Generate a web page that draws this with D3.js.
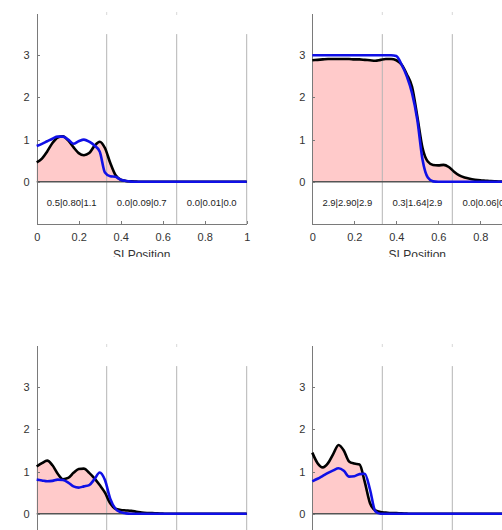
<!DOCTYPE html>
<html lang="en">
<head>
<meta charset="utf-8">
<title>SI Position profiles</title>
<style>
  body {
    margin: 0;
    padding: 0;
    background: #fff;
    overflow: hidden;
  }
  svg {
    display: block;
    font-family: 'Liberation Sans', Arial, sans-serif;
  }
  .axis path, .axis line {
    stroke: #7a7a7a;
    shape-rendering: crispEdges;
  }
  .axis text {
    fill: #333;
    font-size: 11px;
  }
  .sep {
    stroke: #b4b4b4;
    stroke-width: 1;
  }
  .zero {
    stroke: #555;
    stroke-width: 1.6;
  }
  .area {
    fill: #ffcaca;
  }
  .black-line, .blue-line {
    fill: none;
    stroke-width: 2.6;
    stroke-linejoin: round;
  }
  .black-line { stroke: #000; }
  .blue-line { stroke: #1010e6; }
  .note {
    font-size: 9.5px;
    fill: #222;
    text-anchor: middle;
  }
</style>
</head>
<body>
<svg id="chart" width="502" height="530"></svg>
<script src="https://cdnjs.cloudflare.com/ajax/libs/d3/7.8.5/d3.min.js"></script>
<script>
// sample positions along the SI axis (step 0.025)
var xs = [0, 0.025, 0.05, 0.075, 0.1, 0.125, 0.15, 0.175, 0.2, 0.225,
          0.25, 0.275, 0.3, 0.325, 0.35, 0.375, 0.4, 0.425, 0.45, 0.475,
          0.5, 0.525, 0.55, 0.575, 0.6, 0.625, 0.65, 0.675, 0.7, 0.725,
          0.75, 0.775, 0.8, 0.825, 0.85, 0.875, 0.9, 0.925, 0.95, 0.975, 1];

// top left
var tlBlack = [0.46, 0.55, 0.72, 0.92, 1.05, 1.08, 0.98, 0.82, 0.68, 0.63,
               0.68, 0.85, 0.95, 0.8, 0.45, 0.16, 0.05, 0.02, 0.01, 0.005,
               0, 0, 0, 0, 0, 0, 0, 0, 0, 0, 0, 0, 0, 0, 0, 0, 0, 0, 0, 0, 0];
var tlBlue  = [0.85, 0.9, 0.96, 1.02, 1.07, 1.07, 1.0, 0.9, 0.96, 1.0,
               0.95, 0.86, 0.72, 0.22, 0.13, 0.12, 0.05, 0.02, 0.005, 0,
               0, 0, 0, 0, 0, 0, 0, 0, 0, 0, 0, 0, 0, 0, 0, 0, 0, 0, 0, 0, 0];

// top right
var trBlack = [2.88, 2.89, 2.9, 2.91, 2.91, 2.91, 2.91, 2.91, 2.9, 2.9,
               2.89, 2.88, 2.87, 2.89, 2.91, 2.91, 2.88, 2.78, 2.55, 2.25,
               1.55, 0.8, 0.48, 0.4, 0.39, 0.4, 0.35, 0.24, 0.15, 0.1,
               0.07, 0.05, 0.035, 0.025, 0.015, 0.01, 0.005, 0, 0, 0, 0];
var trBlue  = [3.0, 3.0, 3.0, 3.0, 3.0, 3.0, 3.0, 3.0, 3.0, 3.0,
               3.0, 3.0, 3.0, 3.0, 3.0, 3.0, 2.98, 2.78, 2.5, 2.1,
               1.47, 0.52, 0.1, 0.01, 0, 0, 0, 0, 0, 0,
               0, 0, 0, 0, 0, 0, 0, 0, 0, 0, 0];

// bottom left
var blBlack = [1.12, 1.2, 1.26, 1.15, 0.95, 0.82, 0.85, 0.97, 1.06, 1.07,
               0.97, 0.84, 0.68, 0.5, 0.25, 0.12, 0.09, 0.08, 0.07, 0.05,
               0.03, 0.02, 0.015, 0.01, 0.005, 0, 0, 0, 0, 0,
               0, 0, 0, 0, 0, 0, 0, 0, 0, 0, 0];
var blBlue  = [0.81, 0.79, 0.77, 0.78, 0.81, 0.8, 0.74, 0.65, 0.62, 0.65,
               0.68, 0.82, 0.98, 0.8, 0.36, 0.12, 0.04, 0.01, 0, 0,
               0, 0, 0, 0, 0, 0, 0, 0, 0, 0, 0, 0, 0, 0, 0, 0, 0, 0, 0, 0, 0];

// bottom right
var brBlack = [1.45, 1.2, 1.1, 1.2, 1.42, 1.63, 1.5, 1.24, 1.19, 1.17,
               0.75, 0.25, 0.08, 0.04, 0.03, 0.02, 0.015, 0.01, 0.005, 0,
               0, 0, 0, 0, 0, 0, 0, 0, 0, 0, 0, 0, 0, 0, 0, 0, 0, 0, 0, 0, 0];
var brBlue  = [0.77, 0.83, 0.9, 0.97, 1.03, 1.08, 1.02, 0.88, 0.89, 0.94,
               0.95, 0.57, 0.06, 0, 0, 0, 0, 0, 0, 0,
               0, 0, 0, 0, 0, 0, 0, 0, 0, 0, 0, 0, 0, 0, 0, 0, 0, 0, 0, 0, 0];

var tlNotes = ['0.5|0.80|1.1', '0.0|0.09|0.7', '0.0|0.01|0.0'];
var trNotes = ['2.9|2.90|2.9', '0.3|1.64|2.9', '0.0|0.06|0.4'];

var xTicks = [0, 0.2, 0.4, 0.6, 0.8, 1];
var yTicks = [0, 1, 2, 3];
var thirds = [1 / 3, 2 / 3, 1];

var svg = d3.select('#chart'),
    panelW = 210,
    panelH = 211;

var x = d3.scaleLinear().domain([0, 1]).range([0, panelW]),
    y = d3.scaleLinear().domain([-1, 4]).range([panelH, 0]);

function drawPanel(id, left, top, black, blue, notes) {
  var g = svg.append('g').attr('transform', 'translate(' + left + ',' + top + ')');
  var rows = xs.map(function (d, i) { return {x: d, k: black[i], b: blue[i]}; });

  var area = d3.area()
    .x(function (d) { return x(d.x); })
    .y0(y(0))
    .y1(function (d) { return y(d.k); })
    .curve(d3.curveMonotoneX);

  g.append('path').datum(rows).attr('class', 'area').attr('d', area);

  // section separators
  g.selectAll('.sep').data(thirds).enter().append('line')
    .attr('class', 'sep')
    .attr('x1', function (d) { return x(d); })
    .attr('x2', function (d) { return x(d); })
    .attr('y1', y(3.5))
    .attr('y2', y(-1));

  // faint marks above the panel
  g.selectAll('.topmark').data(thirds.slice(0, 2)).enter().append('line')
    .attr('class', 'topmark')
    .attr('x1', function (d) { return x(d); })
    .attr('x2', function (d) { return x(d); })
    .attr('y1', -1)
    .attr('y2', 2)
    .attr('stroke', '#d8d8d8');

  g.append('line').attr('class', 'zero')
    .attr('x1', x(0)).attr('x2', x(1))
    .attr('y1', y(0)).attr('y2', y(0));

  g.append('g').attr('class', 'axis')
    .attr('transform', 'translate(0,' + panelH + ')')
    .call(d3.axisBottom(x).tickValues(xTicks).tickSize(-3).tickSizeOuter(0)
      .tickPadding(9).tickFormat(d3.format('~g')));

  g.append('g').attr('class', 'axis')
    .call(d3.axisLeft(y).tickValues(yTicks).tickSize(-3).tickSizeOuter(0)
      .tickPadding(7).tickFormat(d3.format('~g')));

  var line = d3.line().x(function (d) { return x(d.x); }).curve(d3.curveMonotoneX);

  g.append('path').datum(rows).attr('class', 'black-line')
    .attr('d', line.y(function (d) { return y(d.k); }));
  g.append('path').datum(rows).attr('class', 'blue-line')
    .attr('d', line.y(function (d) { return y(d.b); }));

  if (notes) {
    g.selectAll('.note').data(notes).enter().append('text')
      .attr('class', 'note')
      .attr('x', function (d, i) { return x(i / 3 + 1 / 6); })
      .attr('y', y(-0.5) + 3.5)
      .text(function (d) { return d; });
  }

  // axis title, cut off at the bottom like the source figure
  var clipId = 'clip-' + id;
  g.append('clipPath').attr('id', clipId)
    .append('rect').attr('x', -40).attr('y', panelH).attr('width', 300).attr('height', 33);
  g.append('text')
    .attr('clip-path', 'url(#' + clipId + ')')
    .attr('x', x(0.5))
    .attr('y', panelH + 35)
    .attr('text-anchor', 'middle')
    .attr('font-size', '12px')
    .attr('fill', '#333')
    .text('SI Position');
}

drawPanel('tl', 36.7, 13, tlBlack, tlBlue, tlNotes);
drawPanel('tr', 312.3, 13, trBlack, trBlue, trNotes);
drawPanel('bl', 36.7, 345, blBlack, blBlue, null);
drawPanel('br', 312.3, 345, brBlack, brBlue, null);
</script>
</body>
</html>
